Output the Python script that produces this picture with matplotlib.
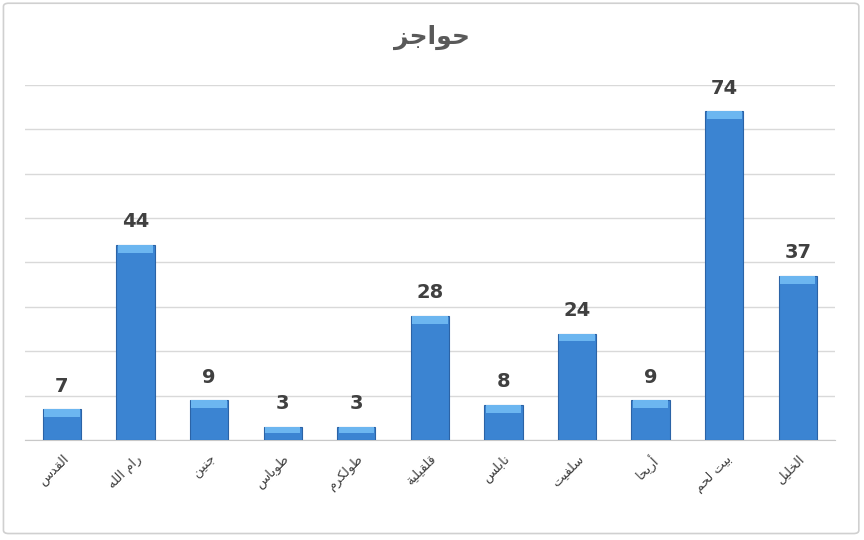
import matplotlib
matplotlib.use("Agg")
import matplotlib.pyplot as plt
from matplotlib.patches import FancyBboxPatch

# data
title = "حواجز"
cities = ["القدس", "رام الله", "جنين", "طوباس", "طولكرم", "قلقيلية",
          "نابلس", "سلفيت", "أريحا", "بيت لحم", "الخليل"]
counts = [7, 44, 9, 3, 3, 28, 8, 24, 9, 74, 37]

# arabic presentation forms (isolated, final, initial, medial)
FORMS = {
    "ا": (0xFE8D, 0xFE8E), "أ": (0xFE83, 0xFE84), "د": (0xFEA9, 0xFEAA),
    "ر": (0xFEAD, 0xFEAE), "ز": (0xFEAF, 0xFEB0), "و": (0xFEED, 0xFEEE),
    "ة": (0xFE93, 0xFE94),
    "ب": (0xFE8F, 0xFE90, 0xFE91, 0xFE92), "ت": (0xFE95, 0xFE96, 0xFE97, 0xFE98),
    "ج": (0xFE9D, 0xFE9E, 0xFE9F, 0xFEA0), "ح": (0xFEA1, 0xFEA2, 0xFEA3, 0xFEA4),
    "خ": (0xFEA5, 0xFEA6, 0xFEA7, 0xFEA8), "س": (0xFEB1, 0xFEB2, 0xFEB3, 0xFEB4),
    "ط": (0xFEC1, 0xFEC2, 0xFEC3, 0xFEC4), "ف": (0xFED1, 0xFED2, 0xFED3, 0xFED4),
    "ق": (0xFED5, 0xFED6, 0xFED7, 0xFED8), "ك": (0xFED9, 0xFEDA, 0xFEDB, 0xFEDC),
    "ل": (0xFEDD, 0xFEDE, 0xFEDF, 0xFEE0), "م": (0xFEE1, 0xFEE2, 0xFEE3, 0xFEE4),
    "ن": (0xFEE5, 0xFEE6, 0xFEE7, 0xFEE8), "ه": (0xFEE9, 0xFEEA, 0xFEEB, 0xFEEC),
    "ي": (0xFEF1, 0xFEF2, 0xFEF3, 0xFEF4),
}


def shape(txt):  # join letters and reverse for LTR drawing
    out = []
    for i, c in enumerate(txt):
        f = FORMS.get(c)
        if f is None:
            out.append(c)
            continue
        prev = txt[i - 1] if i > 0 else ""
        nxt = txt[i + 1] if i + 1 < len(txt) else ""
        join_prev = prev in FORMS and len(FORMS[prev]) == 4
        join_next = len(f) == 4 and nxt in FORMS
        if join_prev and join_next:
            out.append(chr(f[3]))
        elif join_prev:
            out.append(chr(f[1]))
        elif join_next:
            out.append(chr(f[2]))
        else:
            out.append(chr(f[0]))
    return "".join(out)[::-1]


plt.rcParams['font.family'] = ['DejaVu Sans']

fig = plt.figure(figsize=(8.64, 5.4), dpi=100)
fig.patches.append(FancyBboxPatch((0.004, 0.012), 0.99, 0.982, boxstyle="round,pad=0,rounding_size=0.006",
                                  transform=fig.transFigure, fill=False, edgecolor="#d0d0d0", lw=1.2))
ax = fig.add_axes([0.029, 0.185, 0.937, 0.658])

x = list(range(len(cities)))
ax.bar(x, counts, width=0.52, color="#3b84d2", edgecolor="#2b63a6", linewidth=0.8, zorder=3)
caps = [min(1.8, c * 0.5) for c in counts]
ax.bar(x, caps, bottom=[c - k for c, k in zip(counts, caps)], width=0.48,
       color="#6cb6f0", linewidth=0, zorder=4)

for xi, c in zip(x, counts):
    ax.text(xi, c + 3.0, str(c), ha="center", va="bottom", fontsize=14,
            fontweight="bold", color="#404040")

ax.set_ylim(0, 80)
ax.set_xlim(-0.5, len(cities) - 0.5)
ax.set_yticks(range(0, 81, 10))
ax.yaxis.grid(True, color="#d9d9d9", lw=1, zorder=0)
ax.tick_params(axis="y", left=False, labelleft=False)
ax.tick_params(axis="x", length=0, pad=9)
ax.set_xticks(x)
ax.set_xticklabels([shape(c) for c in cities], rotation=45, ha="right",
                   rotation_mode="anchor", fontsize=9.5, color="#404040")
for s in ["top", "left", "right"]:
    ax.spines[s].set_visible(False)
ax.spines["bottom"].set_color("#c8c8c8")

fig.text(0.5, 0.93, shape(title), ha="center", va="center", fontsize=18,
         fontweight="bold", color="#595959")

fig.savefig("out.png", dpi=100)
